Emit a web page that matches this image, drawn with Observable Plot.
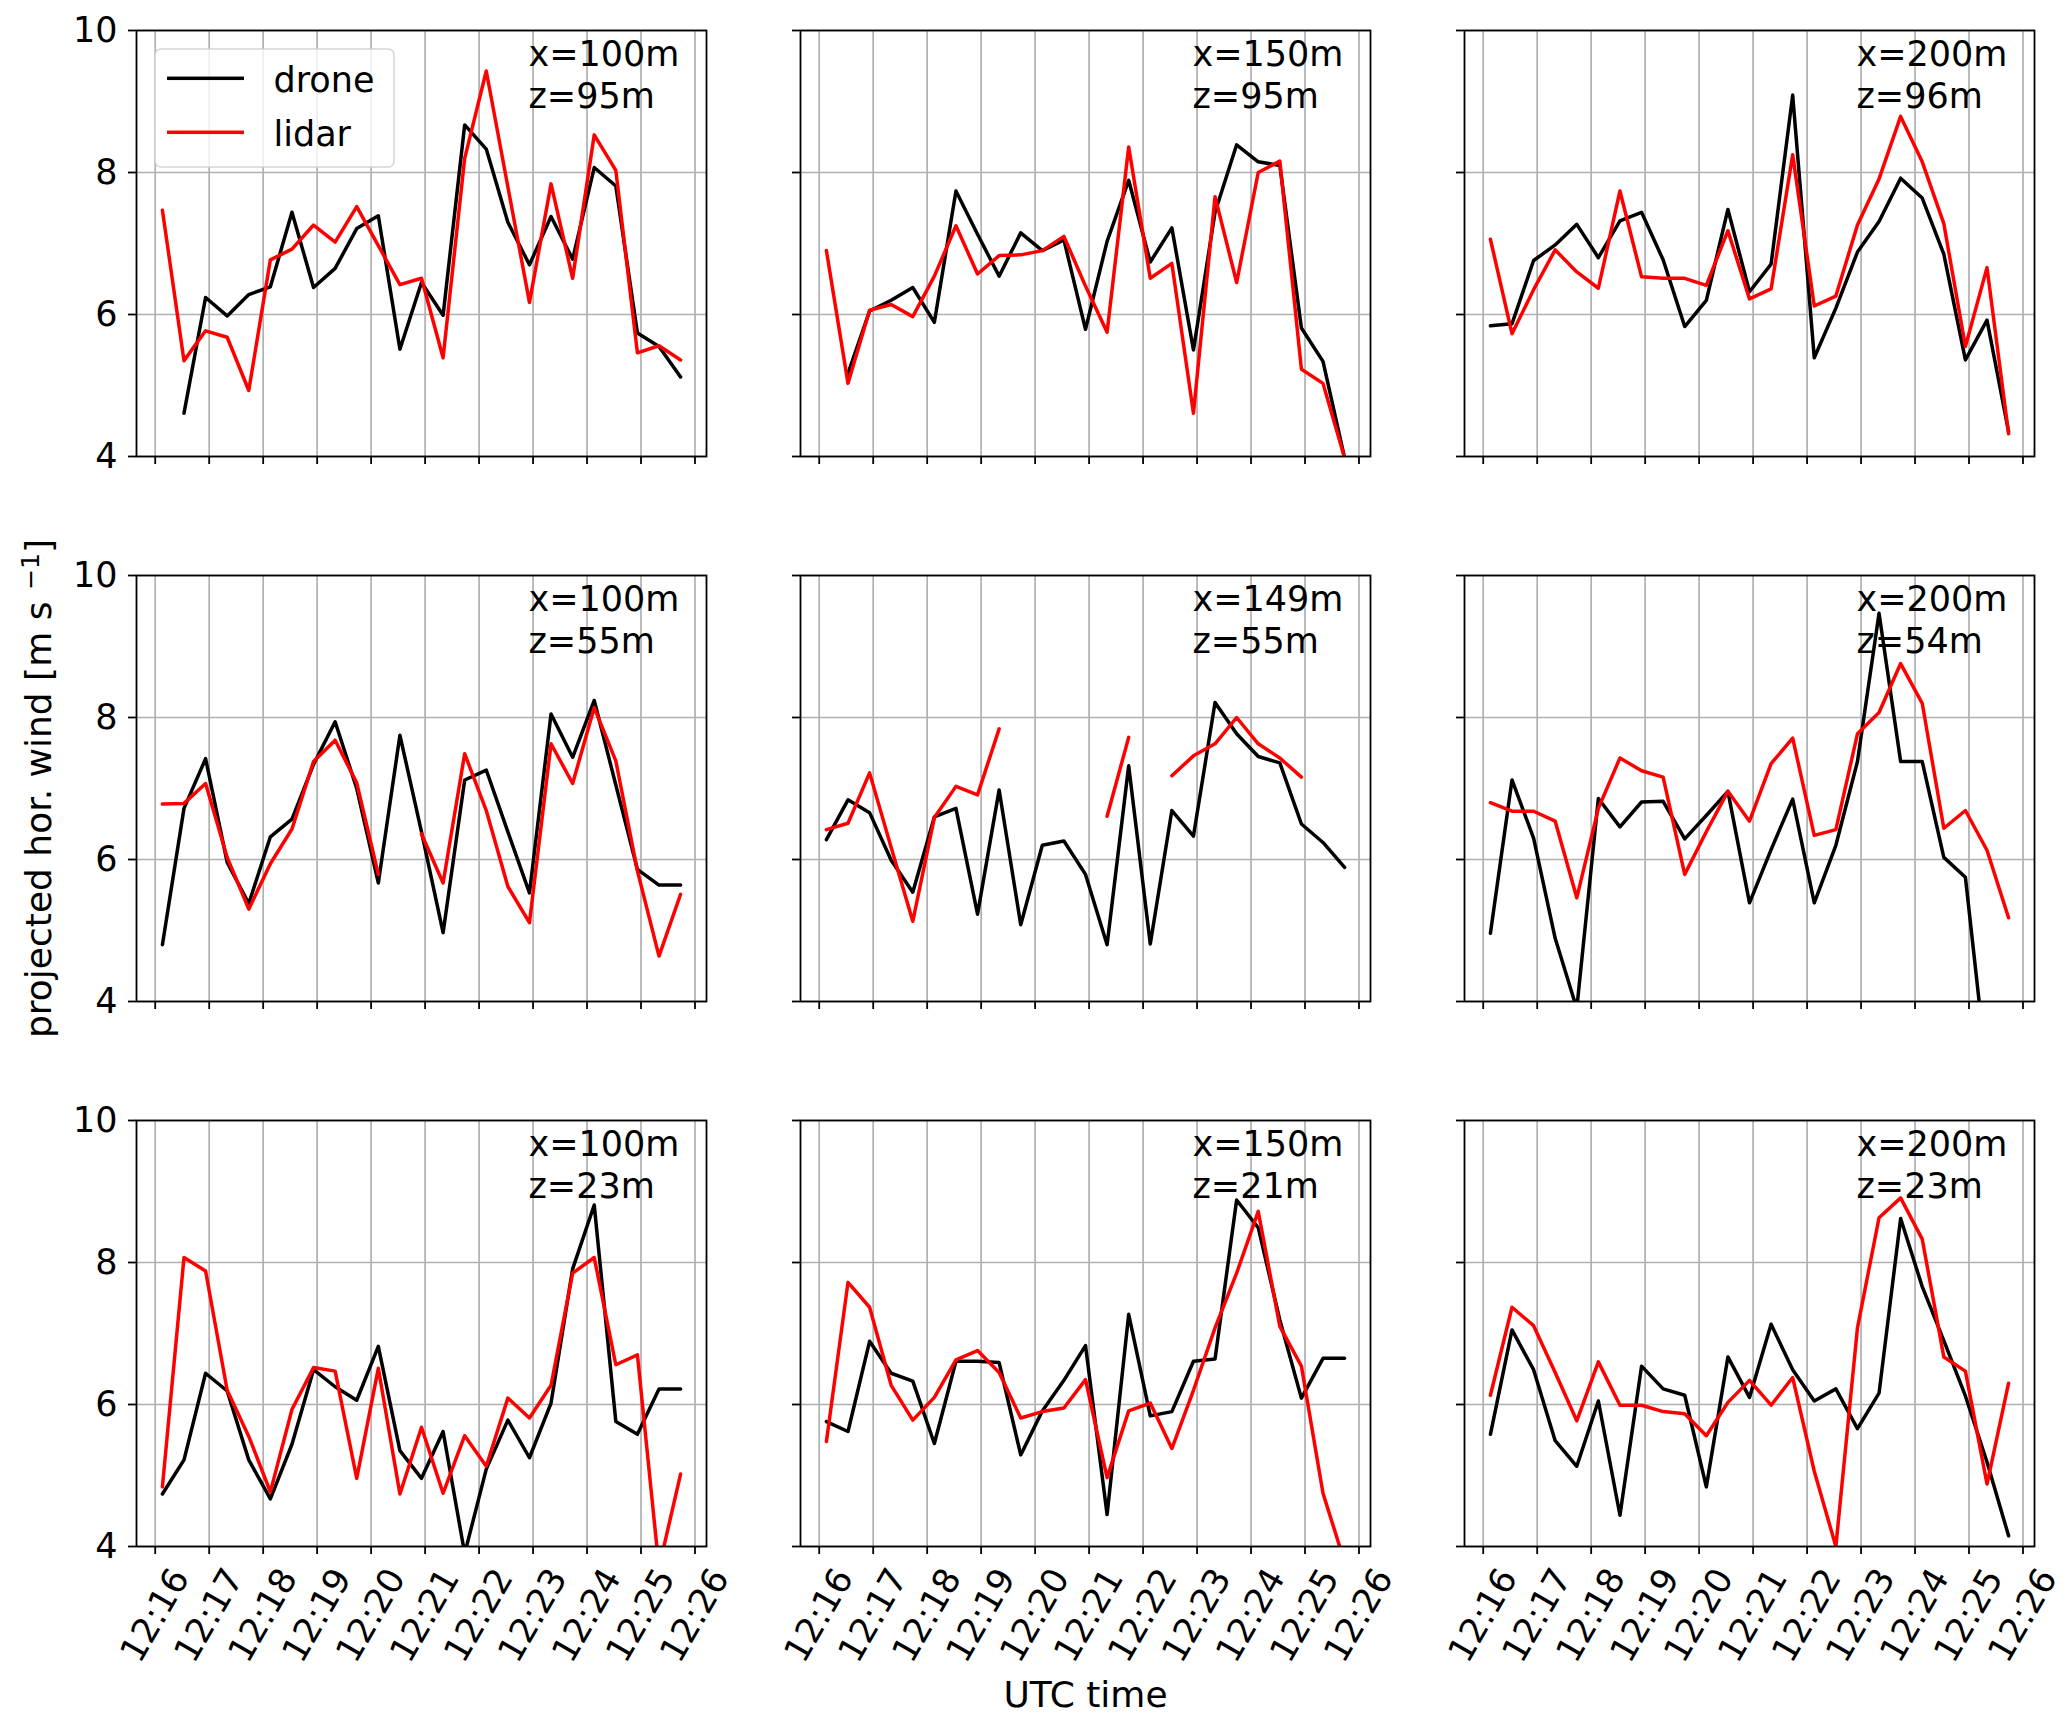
<!DOCTYPE html>
<html>
<head>
<meta charset="utf-8">
<script src="https://cdn.jsdelivr.net/npm/d3@7"></script>
<script src="https://cdn.jsdelivr.net/npm/@observablehq/plot@0.6"></script>
<style>
  html, body { margin: 0; padding: 0; background: #ffffff; }
  #chart { width: 2067px; height: 1721px; }
</style>
</head>
<body>
<div id="chart"></div>
<script>
// ---------------- data ----------------
const times = ["12:16:08","12:16:32","12:16:56","12:17:20","12:17:44","12:18:08","12:18:32","12:18:56",
  "12:19:20","12:19:44","12:20:08","12:20:32","12:20:56","12:21:20","12:21:44","12:22:08","12:22:32",
  "12:22:56","12:23:20","12:23:44","12:24:08","12:24:32","12:24:56","12:25:20","12:25:44"];
const xTickLabels = ["12:16","12:17","12:18","12:19","12:20","12:21","12:22","12:23","12:24","12:25","12:26"];
const yTicks = [4, 6, 8, 10];
const yTickLabels = ["4", "6", "8", "10"];
const seriesNames = ["drone", "lidar"];
const seriesColors = ["black", "red"];
const panelX = [100, 150, 200, 100, 149, 200, 100, 150, 200];
const panelZ = [95, 95, 96, 55, 55, 54, 23, 21, 23];
const xLabel = "UTC time";
const yLabel = "projected hor. wind [m s\u207B\u00B9]";

const drone_x100_z95 = [null,4.61,6.24,5.98,6.28,6.39,7.44,6.38,6.65,7.21,7.39,5.51,6.45,5.99,8.67,8.33,7.30,6.70,7.38,6.78,8.07,7.81,5.74,5.55,5.12];
const lidar_x100_z95 = [7.47,5.35,5.77,5.68,4.93,6.77,6.92,7.26,7.02,7.52,6.97,6.42,6.51,5.39,8.20,9.43,7.80,6.17,7.84,6.51,8.53,8.03,5.46,5.56,5.36];
const drone_x150_z95 = [null,5.17,6.05,6.20,6.38,5.89,7.74,7.13,6.54,7.15,6.90,7.05,5.79,7.03,7.89,6.74,7.22,5.50,7.44,8.39,8.15,8.10,5.81,5.34,3.98];
const lidar_x150_z95 = [6.90,5.03,6.06,6.14,5.97,6.54,7.25,6.57,6.83,6.84,6.90,7.10,6.40,5.75,8.36,6.51,6.72,4.61,7.66,6.45,8.00,8.16,5.23,5.03,3.98];
const drone_x200_z96 = [5.84,5.87,6.76,6.98,7.27,6.80,7.32,7.44,6.77,5.83,6.20,7.48,6.32,6.71,9.09,5.39,6.09,6.88,7.31,7.92,7.64,6.85,5.36,5.92,4.35];
const lidar_x200_z96 = [7.06,5.73,6.35,6.91,6.60,6.37,7.74,6.53,6.51,6.51,6.41,7.18,6.22,6.36,8.25,6.12,6.26,7.26,7.91,8.79,8.15,7.28,5.55,6.66,4.32];
const drone_x100_z55 = [4.80,6.72,7.42,5.96,5.38,6.32,6.57,7.34,7.94,7.00,5.67,7.75,6.39,4.97,7.12,7.26,6.39,5.53,8.05,7.44,8.24,7.05,5.86,5.64,5.64];
const lidar_x100_z55 = [6.78,6.79,7.07,6.03,5.30,5.94,6.43,7.38,7.68,7.08,5.79,null,6.36,5.67,7.49,6.69,5.62,5.11,7.63,7.07,8.14,7.39,5.84,4.64,5.51];
const drone_x149_z55 = [6.28,6.84,6.66,5.99,5.54,6.60,6.72,5.23,6.98,5.08,6.20,6.26,5.79,4.80,7.32,4.81,6.69,6.33,8.21,7.77,7.45,7.36,6.50,6.24,5.89];
const lidar_x149_z55 = [6.42,6.51,7.22,6.17,5.13,6.59,7.03,6.91,7.84,null,null,null,null,6.61,7.72,null,7.18,7.46,7.63,8.00,7.63,7.43,7.16,null,null];
const drone_x200_z54 = [4.96,7.12,6.30,4.89,3.90,6.86,6.46,6.81,6.82,6.29,6.62,6.96,5.39,6.14,6.85,5.39,6.20,7.38,9.47,7.38,7.38,6.03,5.75,3.00,null];
const lidar_x200_z54 = [6.80,6.68,6.68,6.54,5.46,6.72,7.43,7.25,7.16,5.79,6.39,6.96,6.54,7.35,7.71,6.34,6.42,7.77,8.07,8.76,8.20,6.44,6.69,6.13,5.18];
const drone_x100_z23 = [4.74,5.22,6.44,6.19,5.22,4.67,5.44,6.49,6.25,6.06,6.82,5.35,4.96,5.62,3.90,5.09,5.78,5.25,6.02,7.91,8.81,5.76,5.58,6.22,6.22];
const lidar_x100_z23 = [4.84,8.07,7.88,6.20,5.55,4.77,5.93,6.52,6.47,4.96,6.51,4.74,5.68,4.75,5.56,5.13,6.09,5.81,6.27,7.85,8.07,6.56,6.70,3.70,5.02];
const drone_x150_z21 = [5.76,5.62,6.89,6.44,6.33,5.45,6.61,6.61,6.59,5.29,5.91,6.34,6.83,4.45,7.27,5.84,5.90,6.61,6.64,8.88,8.49,7.19,6.09,6.65,6.65];
const lidar_x150_z21 = [5.48,7.72,7.37,6.27,5.78,6.10,6.63,6.76,6.45,5.81,5.90,5.95,6.35,4.97,5.91,6.02,5.38,6.20,7.08,7.85,8.72,7.10,6.54,4.75,3.78];
const drone_x200_z23 = [5.58,7.05,6.49,5.49,5.13,6.05,4.44,6.54,6.22,6.13,4.84,6.67,6.10,7.13,6.49,6.05,6.22,5.66,6.16,8.62,7.66,6.90,6.12,5.19,4.15];
const lidar_x200_z23 = [6.13,7.37,7.11,6.45,5.77,6.60,5.99,5.99,5.90,5.87,5.56,6.03,6.34,5.99,6.38,5.06,4.00,7.08,8.63,8.91,8.33,6.67,6.47,4.88,6.30];

const droneSeries = [drone_x100_z95, drone_x150_z95, drone_x200_z96, drone_x100_z55, drone_x149_z55, drone_x200_z54, drone_x100_z23, drone_x150_z21, drone_x200_z23];
const lidarSeries = [lidar_x100_z95, lidar_x150_z95, lidar_x200_z96, lidar_x100_z55, lidar_x149_z55, lidar_x200_z54, lidar_x100_z23, lidar_x150_z21, lidar_x200_z23];

// ---------------- layout ----------------
const W = 2067, H = 1721;
const panelW = 570, panelH = 426, gapX = 94, gapY = 119;
const mLeft = 136, mTop = 30;
const mRight = W - mLeft - 3 * panelW - 2 * gapX;
const mBottom = H - mTop - 3 * panelH - 2 * gapY;
const FONT = 35;
const LINE_W = 3.5;

const parseT = d3.utcParse("%H:%M:%S");
const parseTick = d3.utcParse("%H:%M");
const tDates = times.map(parseT);
const xTicks = xTickLabels.map(parseTick);
const t0 = tDates[0], t1 = tDates[tDates.length - 1];
const pad = (t1 - t0) * 0.05;
const xDomain = [new Date(+t0 - pad), new Date(+t1 + pad)];
const yFormat = (d) => yTickLabels[yTicks.indexOf(d)];

function rowsFor(seriesList, name) {
  const out = [];
  seriesList.forEach((vals, p) => {
    vals.forEach((v, i) => {
      out.push({col: p % 3, row: Math.floor(p / 3), t: tDates[i], v: v == null ? NaN : v, series: name});
    });
  });
  return out;
}
const droneRows = rowsFor(droneSeries, seriesNames[0]);
const lidarRows = rowsFor(lidarSeries, seriesNames[1]);
const panelInfo = panelX.map((x, p) => ({col: p % 3, row: Math.floor(p / 3), label: `x=${x}m\nz=${panelZ[p]}m`}));
const firstPanel = [{col: 0, row: 0}];

// legend geometry (relative to panel frame)
const lg = {left: 19, top: 19, w: 239, h: 118, lineL: 31, lineR: 108, rowY: [48.3, 102.3], textX: 137, textBase: [61, 115]};
const legendMarks = [
  Plot.rect(firstPanel, {fx: "col", fy: "row", insetLeft: lg.left, insetTop: lg.top,
    insetRight: panelW - lg.left - lg.w, insetBottom: panelH - lg.top - lg.h, rx: 6,
    fill: "white", fillOpacity: 0.8, stroke: "#cccccc", strokeOpacity: 0.8, strokeWidth: 1.6})
];
seriesNames.forEach((name, k) => {
  legendMarks.push(
    Plot.rect(firstPanel, {fx: "col", fy: "row", insetLeft: lg.lineL, insetRight: panelW - lg.lineR,
      insetTop: lg.rowY[k] - LINE_W / 2, insetBottom: panelH - lg.rowY[k] - LINE_W / 2, fill: seriesColors[k]}),
    Plot.text(firstPanel, {fx: "col", fy: "row", text: () => name, frameAnchor: "top-left",
      dx: lg.textX, dy: lg.textBase[k], lineAnchor: "bottom", textAnchor: "start", fontSize: FONT, fill: "black"})
  );
});

const chart = Plot.plot({
  width: W, height: H,
  marginLeft: mLeft, marginRight: mRight, marginTop: mTop, marginBottom: mBottom,
  style: {fontFamily: "'DejaVu Sans', sans-serif", fontSize: FONT + "px", color: "black", background: "white", overflow: "visible"},
  facet: {marginTop: 0, marginRight: 0, marginBottom: 0, marginLeft: 0},
  fx: {domain: [0, 1, 2], paddingInner: gapX / (panelW + gapX), paddingOuter: 0, axis: null, round: false},
  fy: {domain: [0, 1, 2], paddingInner: gapY / (panelH + gapY), paddingOuter: 0, axis: null, round: false},
  x: {type: "utc", domain: xDomain},
  y: {domain: [4, 10]},
  marks: [
    Plot.gridY(yTicks, {stroke: "#b0b0b0", strokeOpacity: 1, strokeWidth: 1.7, facetAnchor: null}),
    Plot.gridX(xTicks, {stroke: "#b0b0b0", strokeOpacity: 1, strokeWidth: 1.7, facetAnchor: null}),
    Plot.line(droneRows, {x: "t", y: "v", fx: "col", fy: "row", stroke: seriesColors[0], strokeWidth: LINE_W, clip: true}),
    Plot.line(lidarRows, {x: "t", y: "v", fx: "col", fy: "row", stroke: seriesColors[1], strokeWidth: LINE_W, clip: true}),
    // tick marks on every panel
    Plot.axisX(xTicks, {tickSize: 8, fill: "none", strokeWidth: 1.8, facetAnchor: null, label: null}),
    Plot.axisY(yTicks, {tickSize: 8, fill: "none", strokeWidth: 1.8, facetAnchor: null, label: null}),
    // tick labels on outer panels
    Plot.axisX(xTicks, {facetAnchor: "bottom", stroke: "none", tickSize: 8, tickPadding: 61, tickRotate: -60,
      textAnchor: "middle", lineAnchor: "middle", tickFormat: d3.utcFormat("%H:%M"), fontSize: FONT, label: null}),
    Plot.axisY(yTicks, {facetAnchor: "left", stroke: "none", tickSize: 8, tickPadding: 11, tickFormat: yFormat, fontSize: FONT, label: null}),
    // panel annotations
    Plot.text(panelInfo, {fx: "col", fy: "row", text: "label", frameAnchor: "top-left", dx: 392, dy: 77,
      lineAnchor: "bottom", textAnchor: "start", lineHeight: 1.2, fontSize: FONT, fill: "black"}),
    // axis titles
    Plot.text([{col: 1, row: 2}], {fx: "col", fy: "row", text: () => xLabel, frameAnchor: "bottom", dy: 160,
      lineAnchor: "bottom", textAnchor: "middle", fontSize: 36, fill: "black"}),
    Plot.text([{col: 0, row: 1}], {fx: "col", fy: "row", text: () => yLabel, frameAnchor: "left", dx: 50 - mLeft,
      rotate: -90, lineAnchor: "bottom", textAnchor: "middle", fontSize: 36, fill: "black"}),
    Plot.frame({stroke: "black", strokeWidth: 1.8}),
    ...legendMarks
  ]
});

// render the unit exponent as a raised superscript
chart.querySelectorAll("text").forEach((t) => {
  if (t.textContent === yLabel) {
    const ns = "http://www.w3.org/2000/svg";
    t.textContent = "";
    t.appendChild(document.createTextNode("projected hor. wind [m s "));
    const sup = document.createElementNS(ns, "tspan");
    sup.setAttribute("dy", "-0.45em");
    sup.setAttribute("font-size", "0.7em");
    sup.textContent = "\u22121";
    t.appendChild(sup);
    const close = document.createElementNS(ns, "tspan");
    close.setAttribute("dy", "0.315em");
    close.textContent = "]";
    t.appendChild(close);
  }
});

document.getElementById("chart").appendChild(chart);
</script>
</body>
</html>
